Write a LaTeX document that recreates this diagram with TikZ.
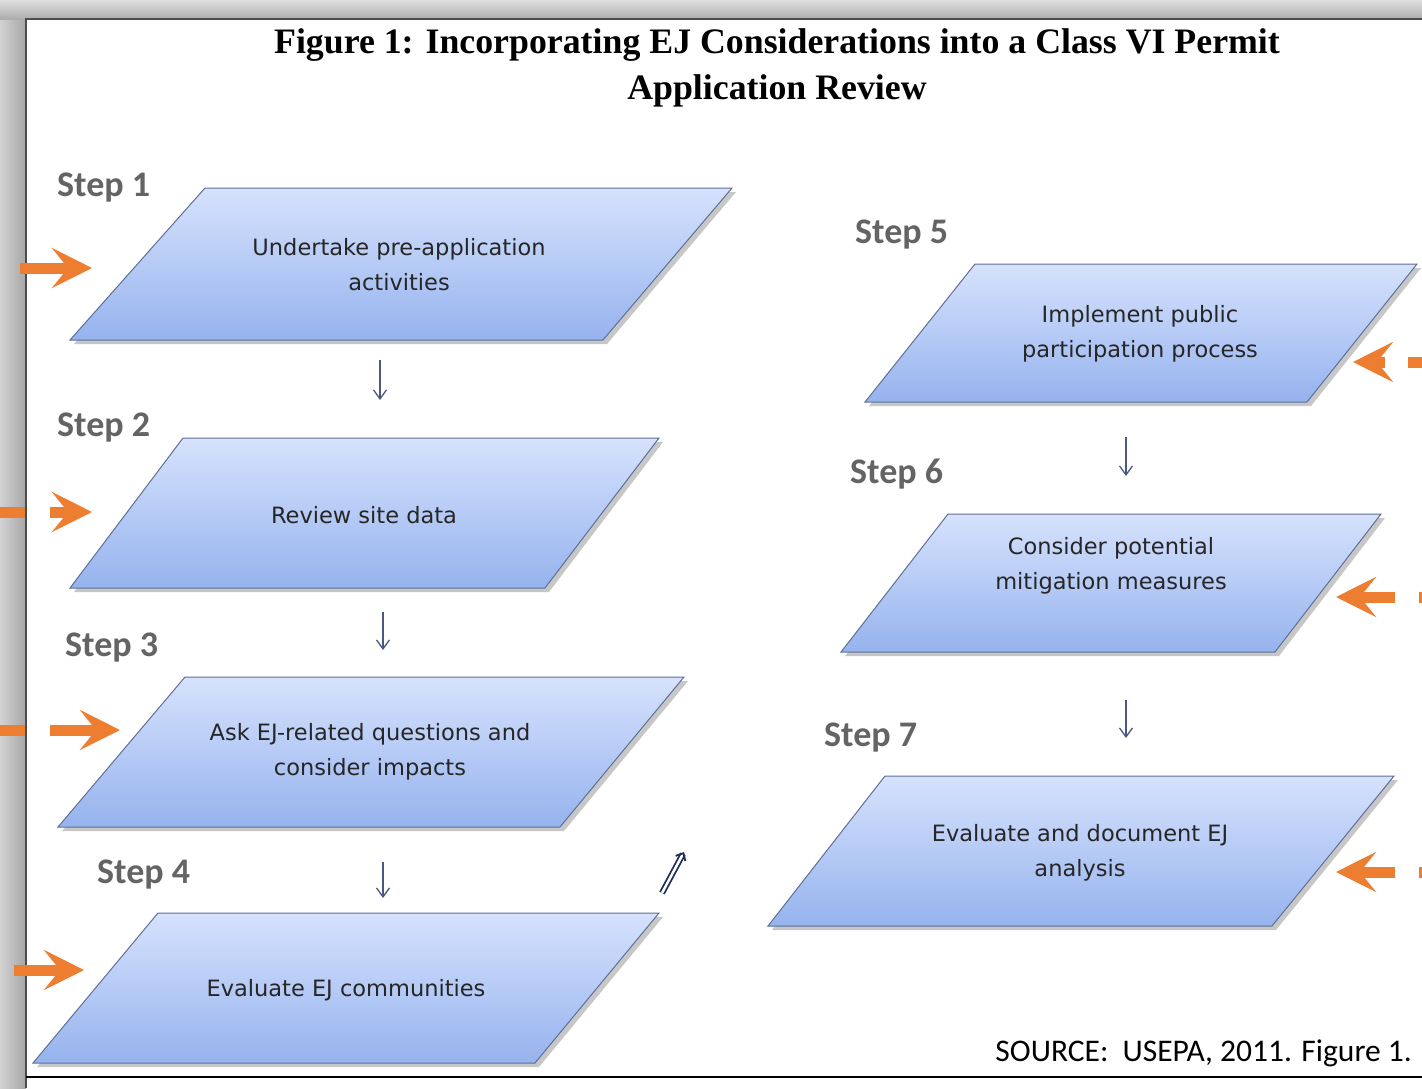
\documentclass[tikz,border=0pt]{standalone}
\usepackage{fontspec}
\setmainfont{Liberation Serif}
\newfontfamily\calibri{Carlito}
\newfontfamily\tahoma{DejaVu Sans}
\usetikzlibrary{arrows.meta}
\definecolor{ejorange}{RGB}{237,125,49}
\definecolor{boxtop}{RGB}{214,226,253}
\definecolor{boxbot}{RGB}{150,179,238}
\definecolor{boxline}{RGB}{95,112,150}
\definecolor{smallarrow}{RGB}{75,88,130}
\definecolor{navyarrow}{RGB}{30,45,90}
\definecolor{stepgray}{RGB}{100,100,100}

\tikzset{
  steplabel/.style={font=\calibri\bfseries\fontsize{36}{36}\selectfont, text=stepgray, anchor=base west, inner sep=0pt},
  boxtext/.style={font=\tahoma\fontsize{22.5}{35}\selectfont, align=center, text=black!85, inner sep=0pt},
  downarrow/.style={draw=smallarrow, line width=1.3pt, -{Straight Barb[length=9pt,width=13pt]}},
  ejhead/.style={draw=ejorange, line width=11pt, -{Stealth[length=40pt,width=40pt,inset=16pt]}},
  ejdash/.style={draw=ejorange, line width=11pt},
}

% #1 top y, #2 bottom y, #3 top left x, #4 top right x, #5 bottom left x, #6 bottom right x
\newcommand{\ejbox}[6]{%
  \fill[black, opacity=0.22] (#3+4,#1+4) -- (#4+4,#1+4) -- (#6+4,#2+4) -- (#5+4,#2+4) -- cycle;
  \shade[top color=boxtop, bottom color=boxbot, draw=boxline, line width=1pt]
    (#3,#1) -- (#4,#1) -- (#6,#2) -- (#5,#2) -- cycle;
}

\begin{document}
\begin{tikzpicture}[x=1pt, y=-1pt]
\useasboundingbox (0,0) rectangle (1422,1088);

% frame
\shade[left color=gray!35, right color=gray!70] (0,0) rectangle (26,1088);
\shade[top color=gray!25, bottom color=gray!65] (0,0) rectangle (1422,19);
\fill[white] (26,19) rectangle (1422,1088);
\draw[gray!60!black, line width=2pt] (26,1088) -- (26,19) -- (1422,19);
\draw[black, line width=2pt] (26,1077) -- (1422,1077);

\node[font=\bfseries\fontsize{35.8}{46}\selectfont, align=center, inner sep=0pt] (title) at (777,68)
  {Figure 1: Incorporating EJ Considerations into a Class VI Permit\\Application Review};

% left column
\ejbox{188}{340}{205}{732}{70}{603}
\ejbox{438}{588}{183}{659}{70}{545}
\ejbox{677}{827}{185}{684}{58}{560}
\ejbox{913}{1063}{158}{659}{33}{535}
% right column
\ejbox{264}{402}{975}{1417}{865}{1307}
\ejbox{514}{652}{948}{1381}{841}{1275}
\ejbox{776}{926}{885}{1394}{768}{1272}

\node[steplabel] (s1) at (57,196) {Step 1};
\node[steplabel] (s2) at (57,436) {Step 2};
\node[steplabel] (s3) at (65,656) {Step 3};
\node[steplabel] (s4) at (97,883) {Step 4};
\node[steplabel] (s5) at (855,243) {Step 5};
\node[steplabel] (s6) at (850,483) {Step 6};
\node[steplabel] (s7) at (824,746) {Step 7};

\node[boxtext] (b1) at (399,265) {Undertake pre-application\\activities};
\node[boxtext] (b2) at (364,515) {Review site data};
\node[boxtext] (b3) at (370,752) {Ask EJ-related questions and\\consider impacts};
\node[boxtext] (b4) at (346,990) {Evaluate EJ communities};
\node[boxtext] (b5) at (1140,334) {Implement public\\participation process};
\node[boxtext] (b6) at (1111,566) {Consider potential\\mitigation measures};
\node[boxtext] (b7) at (1080,853) {Evaluate and document EJ\\analysis};

% small arrows between steps
\coordinate (d1a) at (380,360);  \coordinate (d1b) at (380,400);
\coordinate (d2a) at (383,612);  \coordinate (d2b) at (383,650);
\coordinate (d3a) at (383,862);  \coordinate (d3b) at (383,898);
\coordinate (d5a) at (1126,437); \coordinate (d5b) at (1126,476);
\coordinate (d6a) at (1126,700); \coordinate (d6b) at (1126,738);
\foreach \a/\b in {d1a/d1b, d2a/d2b, d3a/d3b, d5a/d5b, d6a/d6b}
  \draw[downarrow] (\a) -- (\b);

\coordinate (upa) at (662,893); \coordinate (upb) at (684,852);
\draw[navyarrow, line width=1.8pt, double=white, double distance=2.5pt, -{Straight Barb[length=6pt,width=11pt]}] (upa) -- (upb);

% orange arrows
\draw[ejhead] (20,268) -- (92,268);
\draw[ejdash] (0,512) -- (25,512);
\draw[ejhead] (50,512) -- (92,512);
\draw[ejdash] (0,730) -- (25,730);
\draw[ejhead] (50,730) -- (120,730);
\draw[ejhead] (14,970) -- (84,970);
\draw[ejhead] (1385,362) -- (1353,362);
\draw[ejdash] (1408,362) -- (1422,362);
\draw[ejhead] (1395,597) -- (1336,597);
\draw[ejdash] (1419,597) -- (1422,597);
\draw[ejhead] (1395,872) -- (1336,872);
\draw[ejdash] (1419,872) -- (1422,872);

\node[font=\calibri\fontsize{31.5}{31.5}\selectfont, anchor=base east, inner sep=0pt] (src) at (1412,1061)
  {SOURCE:\ \ USEPA, 2011. Figure 1.};
\end{tikzpicture}
\end{document}
